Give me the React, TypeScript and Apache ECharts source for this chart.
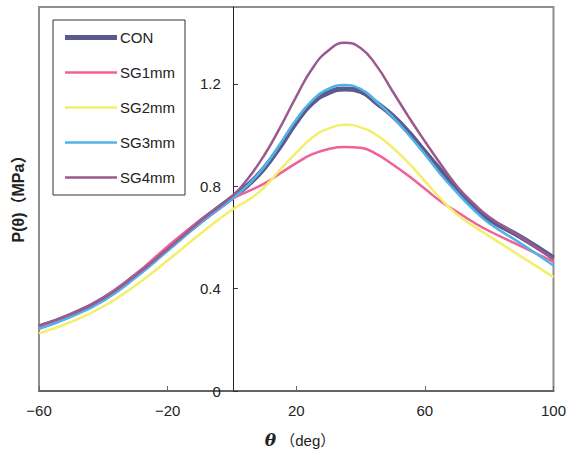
import React, { useEffect, useRef } from "react";
import * as echarts from "echarts";

const theta = [-60, -50, -40, -30, -20, -10, 0, 5, 10, 15, 20, 25, 30, 35, 40, 45, 50, 55, 60, 65, 70, 75, 80, 90, 100];
const con = [0.25, 0.297, 0.36, 0.45, 0.555, 0.66, 0.755, 0.805, 0.87, 0.955, 1.05, 1.125, 1.165, 1.18, 1.17, 1.125, 1.075, 1.01, 0.935, 0.86, 0.785, 0.72, 0.67, 0.6, 0.52];
const sg1 = [0.25, 0.3, 0.363, 0.455, 0.565, 0.665, 0.75, 0.78, 0.81, 0.85, 0.89, 0.925, 0.945, 0.953, 0.95, 0.925, 0.885, 0.84, 0.79, 0.74, 0.7, 0.66, 0.625, 0.565, 0.505];
const sg2 = [0.225, 0.27, 0.33, 0.412, 0.51, 0.612, 0.708, 0.745, 0.795, 0.865, 0.93, 0.99, 1.025, 1.04, 1.03, 1.0, 0.95, 0.89, 0.82, 0.75, 0.69, 0.645, 0.605, 0.525, 0.445];
const sg3 = [0.243, 0.29, 0.352, 0.443, 0.548, 0.655, 0.75, 0.805, 0.875, 0.965, 1.06, 1.135, 1.18, 1.195, 1.18, 1.13, 1.07, 1.0, 0.925, 0.845, 0.775, 0.71, 0.655, 0.575, 0.49];
const sg4 = [0.255, 0.3, 0.362, 0.452, 0.555, 0.662, 0.76, 0.83, 0.92, 1.03, 1.15, 1.26, 1.33, 1.36, 1.34, 1.27, 1.17, 1.07, 0.975, 0.885, 0.8, 0.735, 0.68, 0.6, 0.515];
const seriesNames = ["CON", "SG1mm", "SG2mm", "SG3mm", "SG4mm"];
const yTicks = [0, 0.4, 0.8, 1.2];

const FONT = "'Liberation Sans', Arial, 'Noto Sans CJK JP', sans-serif";
const GRID_LEFT = 39;
const GRID_RIGHT = 13;
const WIDTH = 569;
const X_MIN = -60;
const X_MAX = 100;

export default function App() {
  const ref = useRef<HTMLDivElement>(null);
  useEffect(() => {
    if (!ref.current) return;
    const chart = echarts.init(ref.current, null, { renderer: "svg" });
    const values = [con, sg1, sg2, sg3, sg4];
    const colors = ["#5a5a8c", "#f0609a", "#f3ef6a", "#4fb3e8", "#9a5a8e"];
    const widths = [5, 2.5, 2.5, 2.5, 2.5];
    const plotW = WIDTH - GRID_LEFT - GRID_RIGHT;
    const zeroOffset = ((0 - X_MIN) / (X_MAX - X_MIN)) * plotW;
    chart.setOption({
      animation: false,
      backgroundColor: "#ffffff",
      grid: {
        left: GRID_LEFT,
        right: GRID_RIGHT,
        top: 7,
        bottom: 63,
        show: true,
        borderColor: "#8e8e8e",
        borderWidth: 2,
        backgroundColor: "transparent",
      },
      legend: {
        orient: "vertical",
        left: 53,
        top: 20,
        padding: [10, 10, 10, 12],
        itemWidth: 52,
        itemHeight: 14,
        itemGap: 20,
        borderColor: "#333",
        borderWidth: 1,
        backgroundColor: "#ffffff",
        data: seriesNames.map((name, k) => ({
          name,
          icon: k === 0 ? "path://M0,0L52,0L52,5L0,5Z" : "path://M0,0L52,0L52,2.5L0,2.5Z",
        })),
        textStyle: { fontFamily: FONT, fontSize: 15, color: "#222", padding: [0, 0, 0, -2] },
      },
      xAxis: {
        type: "value",
        min: X_MIN,
        max: X_MAX,
        interval: 40,
        splitLine: { show: false },
        axisLine: { onZero: false, lineStyle: { color: "#555", width: 1.5 } },
        axisTick: { inside: true, length: 5, lineStyle: { color: "#666" } },
        axisLabel: {
          margin: 12,
          fontFamily: FONT,
          fontSize: 15,
          color: "#222",
          formatter: (v: number) => String(v).replace("-", "\u2212"),
        },
      },
      yAxis: {
        type: "value",
        min: 0,
        max: 1.5,
        offset: -zeroOffset,
        splitLine: { show: false },
        axisLine: { onZero: false, lineStyle: { color: "#222", width: 1 } },
        axisTick: { inside: true, length: 5, customValues: yTicks, lineStyle: { color: "#333" } },
        axisLabel: {
          margin: 12,
          fontFamily: FONT,
          fontSize: 15,
          color: "#222",
          customValues: yTicks,
          formatter: (v: number) => (v === 0 ? "0" : v.toFixed(1)),
        },
      },
      graphic: [
        {
          type: "text",
          x: 18,
          y: 195,
          rotation: Math.PI / 2,
          style: {
            text: "P(θ)（MPa）",
            fontFamily: FONT,
            fontSize: 16,
            fontWeight: "bold",
            fill: "#222",
            align: "center",
            verticalAlign: "middle",
          },
        },
        {
          type: "text",
          x: 300,
          y: 440,
          style: {
            text: "{i|θ} （deg）",
            fontFamily: FONT,
            fontSize: 15,
            fill: "#222",
            align: "center",
            verticalAlign: "middle",
            rich: {
              i: { fontFamily: "'DejaVu Serif', serif", fontStyle: "italic", fontWeight: "bold", fontSize: 17 },
            },
          },
        },
      ],
      series: seriesNames.map((name, k) => ({
        name,
        type: "line",
        smooth: true,
        symbol: "none",
        data: theta.map((t, i) => [t, values[k][i]]),
        lineStyle: { color: colors[k], width: widths[k] },
        itemStyle: { color: colors[k] },
      })),
    });
    return () => chart.dispose();
  }, []);
  return <div ref={ref} style={{ position: "fixed", left: 0, top: 0, width: 569, height: 454 }} />;
}
